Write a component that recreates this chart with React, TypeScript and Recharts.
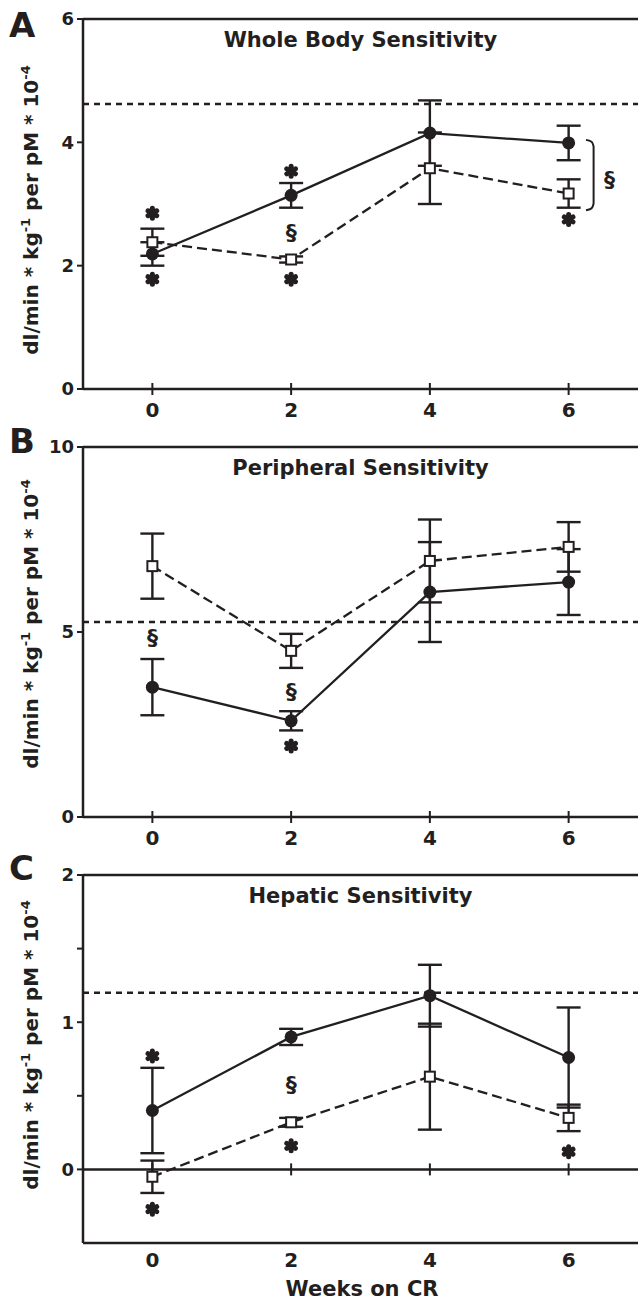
import React from 'react'
import {
  ComposedChart,
  Line,
  Scatter,
  XAxis,
  YAxis,
  ReferenceLine,
  ErrorBar,
  Label,
} from 'recharts'

const INK = '#231f20'
const FONT = '"DejaVu Sans", Verdana, sans-serif'

const weeks = [0, 2, 4, 6]

// A - whole body
const wholeFilled = [2.19, 3.14, 4.15, 3.99]
const wholeFilledErr = [0.19, 0.2, 0.53, 0.28]
const wholeOpen = [2.38, 2.1, 3.58, 3.17]
const wholeOpenErr = [0.22, 0.05, 0.58, 0.23]
const wholeRef = 4.62
const wholeStars = [[0, 2.85], [0, 1.78], [2, 3.53], [2, 1.78], [6, 2.75]]
const wholeSections = [[2, 2.53], [6.59, 3.4]]
const wholeBracket = [[6.25, 4.04], [6.33, 4.01], [6.36, 3.93], [6.36, 3.01], [6.33, 2.93], [6.25, 2.9]]

// B - peripheral
const periFilled = [3.51, 2.6, 6.08, 6.35]
const periFilledErr = [0.76, 0.26, 1.35, 0.89]
const periOpen = [6.78, 4.49, 6.92, 7.3]
const periOpenErr = [0.88, 0.46, 1.12, 0.67]
const periRef = 5.27
const periStars = [[2, 1.92]]
const periSections = [[0, 4.84], [2, 3.38]]

// C - hepatic
const hepFilled = [0.4, 0.9, 1.18, 0.76]
const hepFilledErr = [0.29, 0.055, 0.21, 0.34]
const hepOpen = [-0.05, 0.32, 0.63, 0.35]
const hepOpenErr = [0.11, 0.03, 0.36, 0.09]
const hepRef = 1.2
const hepStars = [[0, 0.77], [0, -0.27], [2, 0.16], [6, 0.12]]
const hepSections = [[2, 0.58]]

const rows = (vals: number[], errs: number[]) =>
  weeks.map((w, i) => ({ week: w, v: vals[i], err: errs[i] }))
const pts = (list: number[][]) => list.map(([w, v]) => ({ week: w, v }))

const circleDot = (p: any) => (
  <circle key={`c${p.index}`} cx={p.cx} cy={p.cy} r={6.5} fill={INK} />
)
const squareDot = (p: any) => (
  <rect
    key={`s${p.index}`}
    x={p.cx - 5}
    y={p.cy - 5}
    width={10}
    height={10}
    fill="#fff"
    stroke={INK}
    strokeWidth={2}
  />
)

const Star = (p: any) => {
  const r = 5
  return (
    <g stroke={INK} strokeWidth={5} strokeLinecap="round">
      {[90, 30, 150].map((a) => {
        const rad = (a * Math.PI) / 180
        return (
          <line
            key={a}
            x1={p.cx - r * Math.cos(rad)}
            y1={p.cy - r * Math.sin(rad)}
            x2={p.cx + r * Math.cos(rad)}
            y2={p.cy + r * Math.sin(rad)}
          />
        )
      })}
    </g>
  )
}

const Section = (p: any) => (
  <text
    x={p.cx}
    y={p.cy}
    textAnchor="middle"
    dominantBaseline="central"
    fontSize={22}
    fontWeight="bold"
    fontFamily={FONT}
    fill={INK}
  >
    §
  </text>
)

const ZeroTick = (p: any) => (
  <line x1={p.cx} x2={p.cx} y1={p.cy - 6} y2={p.cy + 6} stroke={INK} strokeWidth={2} />
)

const CrossTick = (p: any) => (
  <g>
    <line x1={p.x} x2={p.x} y1={p.y - 6} y2={p.y + 6} stroke={INK} strokeWidth={2} />
    <text x={p.x} y={p.y + 28} textAnchor="middle" fontSize={20} fontWeight="bold" fontFamily={FONT} fill={INK}>
      {p.payload.value}
    </text>
  </g>
)

const PlainTick = (p: any) => (
  <text x={p.x} y={p.y + 24} textAnchor="middle" fontSize={20} fontWeight="bold" fontFamily={FONT} fill={INK}>
    {p.payload.value}
  </text>
)

function SideText({ letter, letterY, labelY, xLabel }: { letter: string; letterY: number; labelY: number; xLabel?: boolean }) {
  return (
    <g fontFamily={FONT} fontWeight="bold" fill={INK}>
      <text x={9} y={letterY} fontSize={34}>
        {letter}
      </text>
      <text transform={`translate(38, ${labelY}) rotate(-90)`} textAnchor="middle" fontSize={20}>
        dl/min * kg<tspan dy={-8} fontSize={13}>-1</tspan>
        <tspan dy={8}> per pM * 10</tspan>
        <tspan dy={-8} fontSize={13}>-4</tspan>
      </text>
      {xLabel && (
        <text x={362} y={456} textAnchor="middle" fontSize={21}>
          Weeks on CR
        </text>
      )}
    </g>
  )
}

interface PanelProps {
  height: number
  top: number
  xAxisHeight: number
  yDomain: [number, number]
  yTicks: number[]
  title: string
  letter: string
  letterY: number
  labelY: number
  filled: any[]
  open: any[]
  refValue: number
  stars: any[]
  sections: any[]
  bracket?: any[]
  hepatic?: boolean
}

function Panel(props: PanelProps) {
  const { hepatic } = props
  return (
    <ComposedChart
      width={638}
      height={props.height}
      margin={{ top: props.top, right: 0, bottom: 0, left: 0 }}
    >
      <XAxis
        type="number"
        dataKey="week"
        domain={[-1, 7]}
        ticks={weeks}
        allowDataOverflow
        height={props.xAxisHeight}
        axisLine={{ stroke: INK, strokeWidth: 2.5 }}
        tickLine={false}
        tickSize={0}
        tickMargin={0}
        tick={hepatic ? <PlainTick /> : <CrossTick />}
        interval={0}
      />
      <YAxis
        type="number"
        domain={props.yDomain}
        ticks={props.yTicks}
        allowDataOverflow
        width={83}
        interval={0}
        axisLine={{ stroke: INK, strokeWidth: 2.5 }}
        tickLine={{ stroke: INK, strokeWidth: 2 }}
        tickSize={6}
        tickMargin={3}
        tick={{ fontSize: 18, fontWeight: 'bold', fill: INK, fontFamily: FONT }}
        tickFormatter={(v: number) => (Number.isInteger(v) ? String(v) : '')}
        label={{
          content: () => (
            <SideText letter={props.letter} letterY={props.letterY} labelY={props.labelY} xLabel={hepatic} />
          ),
        }}
      />
      <ReferenceLine y={props.yDomain[1]} stroke={INK} strokeWidth={2.5}>
        <Label
          value={props.title}
          position="insideTop"
          offset={13}
          fontSize={21}
          fontWeight="bold"
          fontFamily={FONT}
          fill={INK}
        />
      </ReferenceLine>
      {hepatic && <ReferenceLine y={0} stroke={INK} strokeWidth={2.5} />}
      <ReferenceLine y={props.refValue} stroke={INK} strokeWidth={2.5} strokeDasharray="6 5" />
      {hepatic && (
        <Scatter data={pts(weeks.map((w) => [w, 0]))} dataKey="v" shape={<ZeroTick />} isAnimationActive={false} />
      )}
      <Line
        data={props.filled}
        dataKey="v"
        stroke={INK}
        strokeWidth={2.3}
        dot={circleDot}
        activeDot={false}
        isAnimationActive={false}
      >
        <ErrorBar dataKey="err" width={12} stroke={INK} strokeWidth={2.4} direction="y" />
      </Line>
      <Line
        data={props.open}
        dataKey="v"
        stroke={INK}
        strokeWidth={2.3}
        strokeDasharray="10 5"
        dot={squareDot}
        activeDot={false}
        isAnimationActive={false}
      >
        <ErrorBar dataKey="err" width={12} stroke={INK} strokeWidth={2.4} direction="y" />
      </Line>
      {props.bracket && (
        <Line
          data={props.bracket}
          dataKey="v"
          stroke={INK}
          strokeWidth={2}
          dot={false}
          activeDot={false}
          type="monotone"
          isAnimationActive={false}
        />
      )}
      <Scatter data={props.stars} dataKey="v" shape={<Star />} isAnimationActive={false} />
      <Scatter data={props.sections} dataKey="v" shape={<Section />} isAnimationActive={false} />
    </ComposedChart>
  )
}

export default function App() {
  return (
    <div style={{ position: 'absolute', left: 0, top: 0, width: 638, height: 1303, background: '#fff' }}>
      <div style={{ position: 'absolute', left: 0, top: 0 }}>
        <Panel
          height={430}
          top={19}
          xAxisHeight={41}
          yDomain={[0, 6]}
          yTicks={[0, 2, 4, 6]}
          title="Whole Body Sensitivity"
          letter="A"
          letterY={37}
          labelY={210}
          filled={rows(wholeFilled, wholeFilledErr)}
          open={rows(wholeOpen, wholeOpenErr)}
          refValue={wholeRef}
          stars={pts(wholeStars)}
          sections={pts(wholeSections)}
          bracket={pts(wholeBracket)}
        />
      </div>
      <div style={{ position: 'absolute', left: 0, top: 410 }}>
        <Panel
          height={442}
          top={37}
          xAxisHeight={35}
          yDomain={[0, 10]}
          yTicks={[0, 5, 10]}
          title="Peripheral Sensitivity"
          letter="B"
          letterY={43}
          labelY={214}
          filled={rows(periFilled, periFilledErr)}
          open={rows(periOpen, periOpenErr)}
          refValue={periRef}
          stars={pts(periStars)}
          sections={pts(periSections)}
        />
      </div>
      <div style={{ position: 'absolute', left: 0, top: 840 }}>
        <Panel
          height={463}
          top={35}
          xAxisHeight={60}
          yDomain={[-0.5, 2]}
          yTicks={[0, 0.5, 1, 1.5, 2]}
          title="Hepatic Sensitivity"
          letter="C"
          letterY={40}
          labelY={205}
          filled={rows(hepFilled, hepFilledErr)}
          open={rows(hepOpen, hepOpenErr)}
          refValue={hepRef}
          stars={pts(hepStars)}
          sections={pts(hepSections)}
          hepatic
        />
      </div>
    </div>
  )
}
